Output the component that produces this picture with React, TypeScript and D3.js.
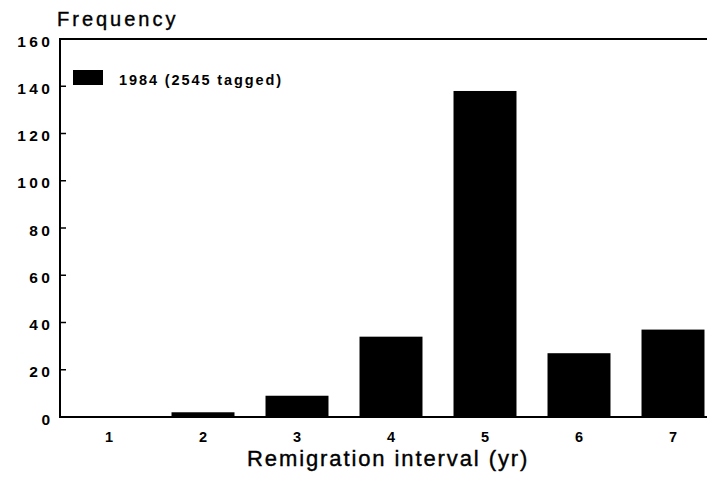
import React from "react";
import * as d3 from "d3";

const categories = ["1", "2", "3", "4", "5", "6", "7"];
const frequencies = [0, 2, 9, 34, 138, 27, 37];
const yTicks = [0, 20, 40, 60, 80, 100, 120, 140, 160];
const legendLabel = "1984 (2545 tagged)";
const yTitle = "Frequency";
const xTitle = "Remigration interval (yr)";

const W = 707;
const H = 484;
const left = 60;
const right = 707;
const top = 39;
const bottom = 417;

export default function App() {
  const y = d3.scaleLinear().domain([0, 160]).range([bottom, top]);
  const x = d3
    .scaleBand<string>()
    .domain(categories)
    .range([62, 720])
    .paddingInner(0.33)
    .paddingOuter(0.165);
  const font = "'Liberation Sans', Arial, Helvetica, sans-serif";
  return (
    <svg
      width={W}
      height={H}
      style={{ position: "absolute", left: 0, top: 0, background: "#fff" }}
      fontFamily={font}
    >
      {categories.map((c, i) => (
        <rect
          key={c}
          x={x(c)}
          y={y(frequencies[i])}
          width={x.bandwidth()}
          height={bottom - y(frequencies[i])}
          fill="#000"
        />
      ))}
      <line x1={left} x2={right} y1={top} y2={top} stroke="#000" strokeWidth={2} />
      <line x1={left} x2={left} y1={top - 1} y2={bottom + 1} stroke="#000" strokeWidth={2} />
      <line x1={left} x2={right} y1={bottom} y2={bottom} stroke="#000" strokeWidth={2} />
      {yTicks.map((t) => (
        <g key={t}>
          <line x1={left} x2={left + 6} y1={y(t)} y2={y(t)} stroke="#000" strokeWidth={1.5} />
          <text
            x={53.5}
            y={y(t) + 7.5}
            textAnchor="end"
            fontSize={15.5}
            fontWeight="bold"
            letterSpacing={3.5}
          >
            {t}
          </text>
        </g>
      ))}
      {categories.map((c) => (
        <text
          key={c}
          x={(x(c) as number) + x.bandwidth() / 2}
          y={442}
          textAnchor="middle"
          fontSize={14.5}
          fontWeight="bold"
        >
          {c}
        </text>
      ))}
      <text x={57} y={26} fontSize={20} letterSpacing={3} stroke="#000" strokeWidth={0.4}>
        {yTitle}
      </text>
      <text x={247} y={466} fontSize={22} letterSpacing={1.9} stroke="#000" strokeWidth={0.4}>
        {xTitle}
      </text>
      <rect x={73} y={70} width={30} height={15} fill="#000" />
      <text x={119} y={85} fontSize={14.5} fontWeight="bold" letterSpacing={1.9}>
        {legendLabel}
      </text>
    </svg>
  );
}
